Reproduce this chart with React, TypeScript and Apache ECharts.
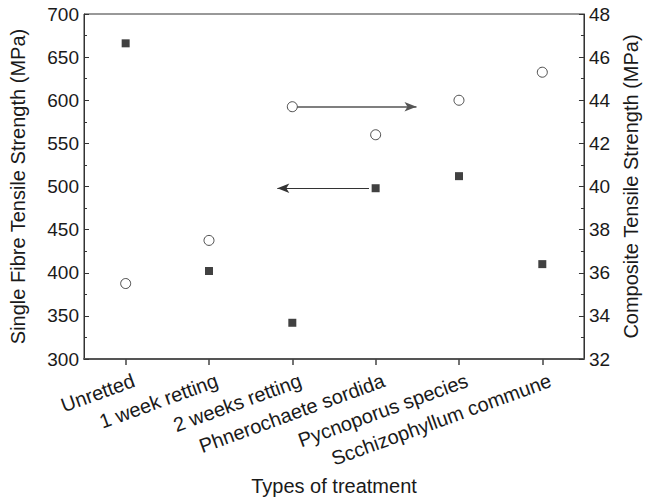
import React, { useEffect, useRef } from "react";
import * as echarts from "echarts";

const categories = [
  "Unretted",
  "1 week retting",
  "2 weeks retting",
  "Phnerochaete sordida",
  "Pycnoporus species",
  "Scchizophyllum commune",
];
// Single fibre tensile strength (MPa), left axis — filled squares
const fibreStrength = [666, 402, 342, 498, 512, 410];
// Composite tensile strength (MPa), right axis — open circles
const compositeStrength = [35.5, 37.5, 43.7, 42.4, 44.0, 45.3];

// Annotation arrows (x in category-index units)
const arrowToRight = { fromX: 2.06, toX: 3.49, y: 43.7 };
const arrowToLeft = { fromX: 2.92, toX: 1.82, y: 498 };

const leftAxisTicks = { min: 300, max: 700, interval: 50 };
const rightAxisTicks = { min: 32, max: 48, interval: 2 };

const FONT = "'Liberation Sans', Arial, Helvetica, sans-serif";
const TXT = "#1a1a1a";
const AX = "#333";

export default function App() {
  const ref = useRef<HTMLDivElement>(null);
  useEffect(() => {
    if (!ref.current) return;
    const chart = echarts.init(ref.current, null, { renderer: "svg" });
    chart.setOption({
      animation: false,
      backgroundColor: "#fff",
      textStyle: { fontFamily: FONT },
      grid: {
        left: 82,
        right: 62,
        top: 14,
        bottom: 142,
        show: true,
        borderColor: AX,
        borderWidth: 1,
        backgroundColor: "transparent",
      },
      xAxis: [
        {
          type: "category",
          data: categories,
          boundaryGap: true,
          name: "Types of treatment",
          nameLocation: "middle",
          nameGap: 117,
          nameTextStyle: { fontSize: 20, color: TXT, fontFamily: FONT },
          axisLine: { show: true, onZero: false, lineStyle: { color: "#555", width: 2 } },
          axisTick: {
            show: true,
            alignWithLabel: true,
            inside: false,
            length: 6,
            lineStyle: { color: "#444", width: 1.5 },
          },
          axisLabel: {
            rotate: 20,
            fontSize: 20,
            color: TXT,
            fontFamily: FONT,
            margin: 13,
            verticalAlign: "top",
            padding: [0, -5, 0, 0],
            interval: 0,
          },
          splitLine: { show: false },
        },
        {
          type: "value",
          min: -0.5,
          max: 5.5,
          show: false,
          position: "bottom",
        },
      ],
      yAxis: [
        {
          type: "value",
          min: leftAxisTicks.min,
          max: leftAxisTicks.max,
          interval: leftAxisTicks.interval,
          position: "left",
          name: "Single Fibre Tensile Strength (MPa)",
          nameLocation: "middle",
          nameGap: 56,
          nameTextStyle: { fontSize: 20, color: TXT, fontFamily: FONT },
          axisLine: { show: true, onZero: false, lineStyle: { color: AX, width: 1 } },
          axisTick: { show: true, inside: true, length: 5, lineStyle: { color: AX } },
          minorTick: { show: true, splitNumber: 2, length: 3, lineStyle: { color: AX } },
          axisLabel: { fontSize: 19, color: TXT, fontFamily: FONT, margin: 5 },
          splitLine: { show: false },
        },
        {
          type: "value",
          min: rightAxisTicks.min,
          max: rightAxisTicks.max,
          interval: rightAxisTicks.interval,
          position: "right",
          name: "Composite Tensile Strength (MPa)",
          nameLocation: "middle",
          nameGap: 37,
          nameRotate: 90,
          nameTextStyle: { fontSize: 20, color: TXT, fontFamily: FONT },
          axisLine: { show: true, onZero: false, lineStyle: { color: AX, width: 1 } },
          axisTick: { show: true, inside: true, length: 5, lineStyle: { color: AX } },
          minorTick: { show: true, splitNumber: 2, length: 3, lineStyle: { color: AX } },
          axisLabel: { fontSize: 19, color: TXT, fontFamily: FONT, margin: 5 },
          splitLine: { show: false },
        },
      ],
      series: [
        {
          name: "Single fibre",
          type: "scatter",
          xAxisIndex: 0,
          yAxisIndex: 0,
          data: fibreStrength,
          symbol: "rect",
          symbolSize: 8,
          itemStyle: { color: "#111" },
          z: 5,
        },
        {
          name: "Composite",
          type: "scatter",
          xAxisIndex: 0,
          yAxisIndex: 1,
          data: compositeStrength,
          symbol: "circle",
          symbolSize: 10,
          itemStyle: { color: "#fff", borderColor: "#222", borderWidth: 1 },
          z: 5,
        },
        {
          name: "arrowR",
          type: "scatter",
          xAxisIndex: 1,
          yAxisIndex: 1,
          data: [],
          markLine: {
            silent: true,
            symbol: ["none", "arrow"],
            symbolSize: [7, 12],
            label: { show: false },
            lineStyle: { color: "#555", width: 1.5, type: "solid" },
            data: [
              [
                { coord: [arrowToRight.fromX, arrowToRight.y] },
                { coord: [arrowToRight.toX, arrowToRight.y] },
              ],
            ],
          },
        },
        {
          name: "arrowL",
          type: "scatter",
          xAxisIndex: 1,
          yAxisIndex: 0,
          data: [],
          markLine: {
            silent: true,
            symbol: ["none", "arrow"],
            symbolSize: [7, 12],
            label: { show: false },
            lineStyle: { color: "#333", width: 1.2, type: "solid" },
            data: [
              [
                { coord: [arrowToLeft.fromX, arrowToLeft.y] },
                { coord: [arrowToLeft.toX, arrowToLeft.y] },
              ],
            ],
          },
        },
      ],
    });
    return () => chart.dispose();
  }, []);
  return (
    <div
      ref={ref}
      style={{ position: "fixed", left: 0, top: 0, width: 649, height: 501 }}
    />
  );
}
